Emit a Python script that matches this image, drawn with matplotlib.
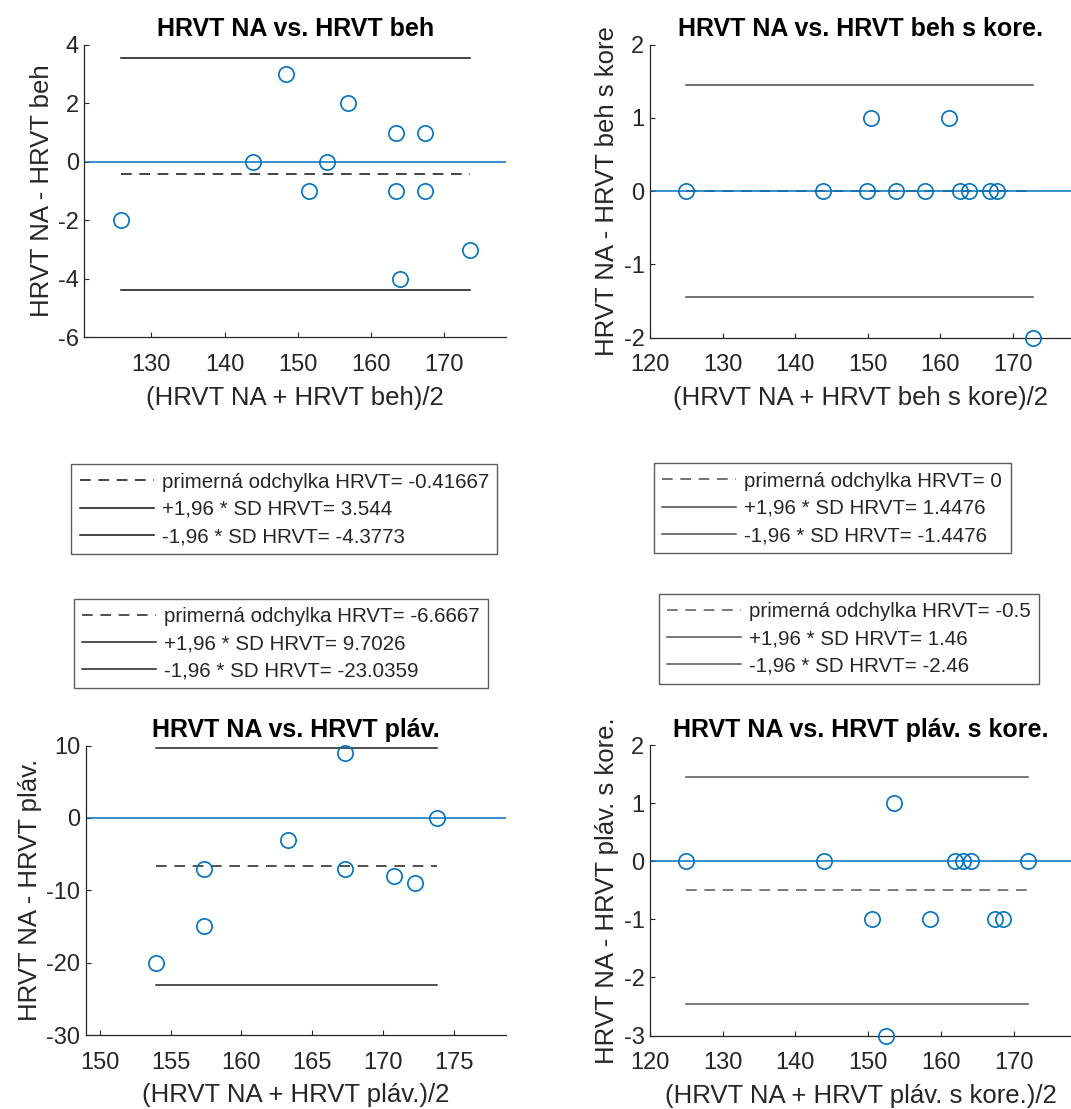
import matplotlib.pyplot as plt
import numpy as np

plt.rcParams['font.family'] = ['Liberation Sans', 'DejaVu Sans']
plt.rcParams['axes.unicode_minus'] = False

# HRVT NA vs. HRVT beh
beh_mean = [125.9, 143.85, 148.4, 151.5, 153.9, 156.9, 163.4, 163.4, 163.9, 167.4, 167.4, 173.5]
beh_diff = [-2, 0, 3, -1, 0, 2, 1, -1, -4, 1, -1, -3]

# HRVT NA vs. HRVT beh s kore.
behk_mean = [124.9, 143.9, 149.9, 150.5, 153.9, 157.9, 161.2, 162.7, 163.9, 166.9, 167.8, 172.8]
behk_diff = [0, 0, 0, 1, 0, 0, 1, 0, 0, 0, 0, -2]

# HRVT NA vs. HRVT pláv.
plav_mean = [153.94, 157.4, 157.4, 163.3, 167.35, 167.35, 170.8, 172.3, 173.8]
plav_diff = [-20, -15, -7, -3, 9, -7, -8, -9, 0]

# HRVT NA vs. HRVT pláv. s kore.
plavk_mean = [124.9, 143.9, 150.5, 152.5, 153.6, 158.5, 162.0, 163.1, 164.2, 167.4, 168.6, 172.0]
plavk_diff = [0, 0, -1, -3, 1, -1, 0, 0, 0, -1, -1, 0]

W, H = 1071, 1109
blue = '#0072BD'
grey_txt = '#262626'


def num2str(v):
    # same output as matlab num2str for a scalar
    if abs(v) < 1e-12:
        return "0"
    digits = max(int(np.floor(np.log10(abs(v)))), 0) + 5
    return f"{v:.{digits}g}"


def px_rect(left, top, right, bottom):
    return [left / W, 1 - bottom / H, (right - left) / W, (bottom - top) / H]


fig = plt.figure(figsize=(W / 100, H / 100), dpi=100)

panels = [
    dict(x=beh_mean, y=beh_diff, rect=px_rect(84.4, 44.8, 506, 337.5), xlim=(120.85, 178.4), ylim=(-6, 4),
         xticks=np.arange(130, 171, 10), yticks=np.arange(-6, 5, 2), lc='#111111',
         title="HRVT NA vs. HRVT beh", ylabel="HRVT NA - HRVT beh", xlabel="(HRVT NA + HRVT beh)/2",
         leg=(71.3, 464.4)),
    dict(x=behk_mean, y=behk_diff, rect=px_rect(650, 44.8, 1071, 337.6), xlim=(120, 178), ylim=(-2, 2),
         xticks=np.arange(120, 171, 10), yticks=np.arange(-2, 3, 1), lc='#4a4a4a',
         title="HRVT NA vs. HRVT beh s kore.", ylabel="HRVT NA - HRVT beh s kore", xlabel="(HRVT NA + HRVT beh s kore)/2",
         leg=(654, 463.4)),
    dict(x=plav_mean, y=plav_diff, rect=px_rect(86, 745.6, 506, 1035), xlim=(149.03, 178.7), ylim=(-30, 10),
         xticks=np.arange(150, 176, 5), yticks=np.arange(-30, 11, 10), lc='#222222',
         title="HRVT NA vs. HRVT pláv.", ylabel="HRVT NA - HRVT pláv.", xlabel="(HRVT NA + HRVT pláv.)/2",
         leg=(74, 598.6)),
    dict(x=plavk_mean, y=plavk_diff, rect=px_rect(650, 745.2, 1071, 1035.5), xlim=(120, 177.9), ylim=(-3, 2),
         xticks=np.arange(120, 171, 10), yticks=np.arange(-3, 3, 1), lc='#555555',
         title="HRVT NA vs. HRVT pláv. s kore.", ylabel="HRVT NA - HRVT pláv. s kore.", xlabel="(HRVT NA + HRVT pláv. s kore.)/2",
         leg=(659, 594)),
]

for p in panels:
    ax = fig.add_axes(p['rect'])
    x = np.array(p['x'])
    y = np.array(p['y'], dtype=float)
    md = y.mean()
    sd = y.std(ddof=1)
    up = md + 1.96 * sd
    lo = md - 1.96 * sd

    ax.axhline(0, color=blue, lw=1.1, zorder=2.5)
    ax.plot(x, y, 'o', mfc='none', mec=blue, ms=11, mew=1.2, zorder=3, clip_on=False)
    h1, = ax.plot([x.min(), x.max()], [md, md], color=p['lc'], lw=1.1, dashes=(7, 5))
    h2, = ax.plot([x.min(), x.max()], [up, up], color=p['lc'], lw=1.1)
    h3, = ax.plot([x.min(), x.max()], [lo, lo], color=p['lc'], lw=1.1)

    ax.set_xlim(*p['xlim'])
    ax.set_ylim(*p['ylim'])
    ax.set_xticks(p['xticks'])
    ax.set_yticks(p['yticks'])
    for s in ['top', 'right']:
        ax.spines[s].set_visible(False)
    for s in ['left', 'bottom']:
        ax.spines[s].set_color(grey_txt)
        ax.spines[s].set_linewidth(0.9)
    ax.tick_params(direction='in', length=3.5, width=0.8, colors=grey_txt, labelsize=17)
    ax.tick_params(axis='x', pad=12)
    ax.tick_params(axis='y', pad=4)
    ax.set_title(p['title'], fontsize=18, fontweight='bold', pad=6)
    ax.set_xlabel(p['xlabel'], fontsize=18.5, color=grey_txt, labelpad=7)
    ax.set_ylabel(p['ylabel'], fontsize=18.5, color=grey_txt, labelpad=3)

    labels = ["primerná odchylka HRVT= " + num2str(md),
              "+1,96 * SD HRVT= " + num2str(up),
              "-1,96 * SD HRVT= " + num2str(lo)]
    lx, ly = p['leg']
    leg = fig.legend([h1, h2, h3], labels, loc='upper left', bbox_to_anchor=(lx / W, 1 - ly / H),
                     fontsize=14.8, frameon=True, fancybox=False, edgecolor='#333333',
                     handlelength=3.6, handletextpad=0.4, borderpad=0.4, labelspacing=0.4,
                     borderaxespad=0)
    leg.get_frame().set_linewidth(1.0)
    for t in leg.get_texts():
        t.set_color(grey_txt)

fig.savefig('out.png', dpi=100)
